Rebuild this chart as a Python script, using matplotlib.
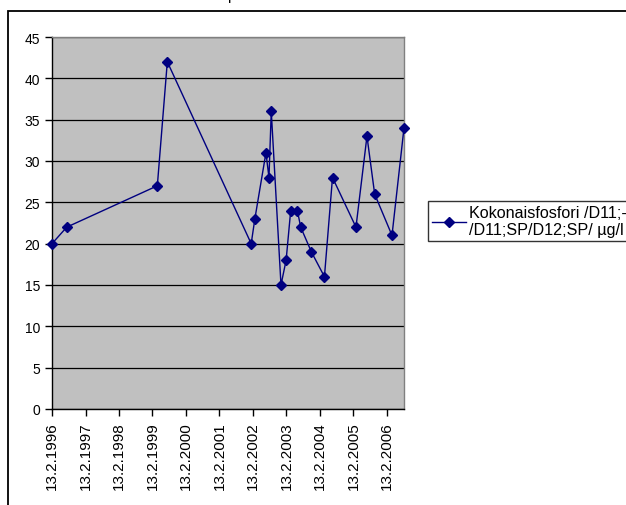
import matplotlib
matplotlib.use("Agg")
import matplotlib.pyplot as plt
import pandas as pd
from matplotlib.patches import Rectangle

plt.rcParams['font.family'] = ['Liberation Sans', 'DejaVu Sans']

# Sampling dates and total phosphorus (µg/l)
sample_dates = [
    "1996-02-13", "1996-07-23", "1999-04-07", "1999-07-25",
    "2002-01-25", "2002-03-06", "2002-07-05", "2002-08-07", "2002-09-01",
    "2002-12-16", "2003-02-10", "2003-04-01", "2003-06-13", "2003-07-19",
    "2003-11-13", "2004-04-03", "2004-06-30", "2005-03-13", "2005-07-11",
    "2005-10-03", "2006-04-10", "2006-08-19",
]
phosphorus = [20, 22, 27, 42, 20, 23, 31, 28, 36, 15, 18, 24, 24, 22,
              19, 16, 28, 22, 33, 26, 21, 34]

tick_dates = [f"{y}-02-13" for y in range(1996, 2007)]
tick_labels = [f"13.2.{y}" for y in range(1996, 2007)]
y_ticks = list(range(0, 50, 5))

series_label = "Kokonaisfosfori /D11;-\n/D11;SP/D12;SP/ µg/l"

dates = pd.to_datetime(sample_dates)
ticks = pd.to_datetime(tick_dates)

fig = plt.figure(figsize=(6.26, 5.06), dpi=100)
fig.patch.set_facecolor("white")

# Outer chart frame
fig.patches.append(Rectangle((8 / 626, -0.1), 1.2, 1 - 12 / 506 + 0.1,
                             transform=fig.transFigure, fill=False,
                             edgecolor="black", linewidth=1.3, zorder=0))
# Title (sits above the frame)
fig.text(231 / 626, 1.0, "p", fontsize=11, ha="center", va="baseline")

ax = fig.add_axes([52 / 626, 1 - 410 / 506, (404 - 52) / 626, (410 - 38) / 506])
ax.set_facecolor("#C0C0C0")

ax.plot(dates, phosphorus, color="#000080", linewidth=1.0, marker="D",
        markersize=5, markerfacecolor="#000080", markeredgecolor="#000080",
        label=series_label, zorder=3, clip_on=False)

ax.set_ylim(0, 45)
ax.set_yticks(y_ticks)
ax.set_xlim(ticks[0], dates[-1])
ax.set_xticks(ticks)
ax.set_xticklabels(tick_labels, rotation=90)

ax.yaxis.grid(True, color="black", linewidth=0.9)
ax.set_axisbelow(True)

for side in ("top", "right"):
    ax.spines[side].set_color("#808080")
    ax.spines[side].set_linewidth(1.0)
for side in ("left", "bottom"):
    ax.spines[side].set_color("black")
    ax.spines[side].set_linewidth(1.0)

ax.tick_params(axis="both", direction="out", length=5, width=1,
               color="black")
ax.tick_params(axis="y", labelsize=10)
ax.tick_params(axis="x", labelsize=11, pad=4)

leg = ax.legend(loc="upper left", bbox_to_anchor=(428 / 626, 1 - 202 / 506),
                bbox_transform=fig.transFigure, frameon=True, fancybox=False,
                shadow=False, fontsize=11.6, handlelength=2.1,
                handletextpad=0.2, borderpad=0.25, labelspacing=0.05,
                borderaxespad=0)
leg.get_frame().set_edgecolor("black")
leg.get_frame().set_linewidth(1.0)

fig.savefig("out.png", dpi=100)
